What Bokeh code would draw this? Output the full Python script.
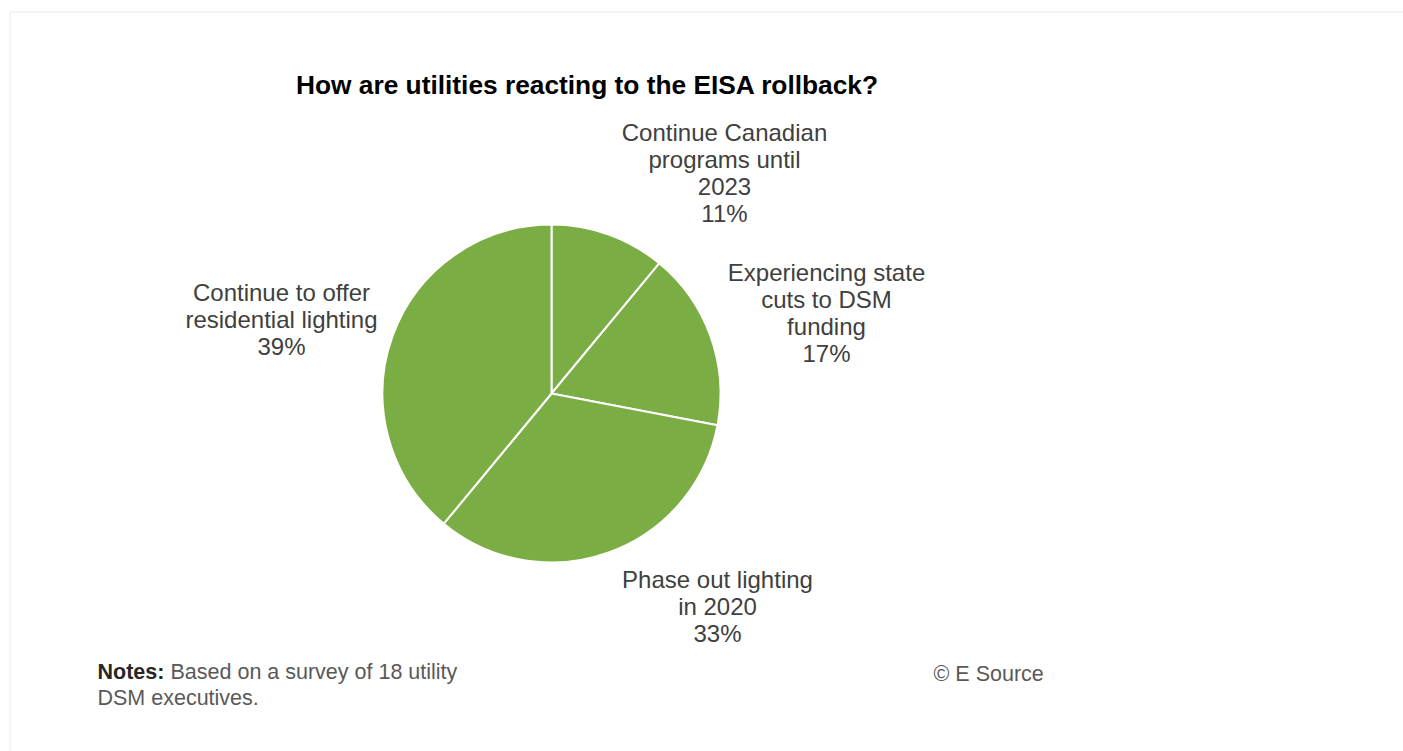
import math
from bokeh.plotting import figure
from bokeh.models import Range1d, BoxAnnotation, ColumnDataSource
from bokeh.core.properties import value
from bokeh.embed import file_html
from bokeh.resources import INLINE

# ---- data ----
title = "How are utilities reacting to the EISA rollback?"
categories = [
    "Continue Canadian\nprograms until\n2023",
    "Experiencing state\ncuts to DSM\nfunding",
    "Phase out lighting\nin 2020",
    "Continue to offer\nresidential lighting",
]
shares = [11, 17, 33, 39]
note_bold = "Notes:"
note_text = "Based on a survey of 18 utility"
note_line2 = "DSM executives."
credit = "\u00a9 E Source"

# ---- layout / style ----
W, H = 1403, 751
FONT = "Liberation Sans"
GREEN = "#7AAE44"
CX, CY, R = 551, H - 393, 169
label_pos = [(724, 118), (826, 258), (717, 565), (281, 278)]  # block top, pixel coords

p = figure(width=W, height=H, output_backend="svg", toolbar_location=None,
           x_range=Range1d(0, W), y_range=Range1d(0, H), min_border=0,
           background_fill_color="white", border_fill_color="white")
p.axis.visible = False
p.grid.visible = False
p.outline_line_color = None

# frame
p.add_layout(BoxAnnotation(left=9.5, right=W + 20, top=H - 11.5, bottom=-20,
                           fill_alpha=0, line_color="#d0d0d0", line_width=1.5))

# pie
total = sum(shares)
starts, ends = [], []
cum = 0
for s in shares:
    starts.append(math.pi / 2 - 2 * math.pi * cum / total)
    cum += s
    ends.append(math.pi / 2 - 2 * math.pi * cum / total)
src = ColumnDataSource(dict(x=[CX] * len(shares), y=[CY] * len(shares),
                            start=starts, end=ends))
p.wedge(x="x", y="y", radius=R, start_angle="start", end_angle="end",
        direction="clock", fill_color=GREEN, line_color="white", line_width=2,
        source=src)

# labels
texts = [f"{c}\n{s}%" for c, s in zip(categories, shares)]
lsrc = ColumnDataSource(dict(x=[lp[0] for lp in label_pos],
                             y=[H - lp[1] for lp in label_pos], t=texts))
p.text(x="x", y="y", text="t", source=lsrc, text_align="center",
       text_baseline="top", text_font=value(FONT), text_font_size="24px",
       text_color="#404040", text_line_height=1.0)

# title
p.text(x=[587], y=[H - 84], text=[title], text_align="center",
       text_baseline="middle", text_font=value(FONT), text_font_size="26.3px",
       text_font_style="bold", text_color="#000000")

# notes
p.text(x=[97], y=[H - 671], text=[note_bold], text_align="left",
       text_baseline="middle", text_font=value(FONT), text_font_size="21.5px",
       text_font_style="bold", text_color="#262626")
p.text(x=[170], y=[H - 671], text=[note_text], text_align="left",
       text_baseline="middle", text_font=value(FONT), text_font_size="21.5px",
       text_color="#595959")
p.text(x=[97], y=[H - 697], text=[note_line2], text_align="left",
       text_baseline="middle", text_font=value(FONT), text_font_size="21.5px",
       text_color="#595959")
p.text(x=[933], y=[H - 673], text=[credit], text_align="left",
       text_baseline="middle", text_font=value(FONT), text_font_size="21.5px",
       text_color="#595959")

open("out.html", "w").write(file_html(p, INLINE))
